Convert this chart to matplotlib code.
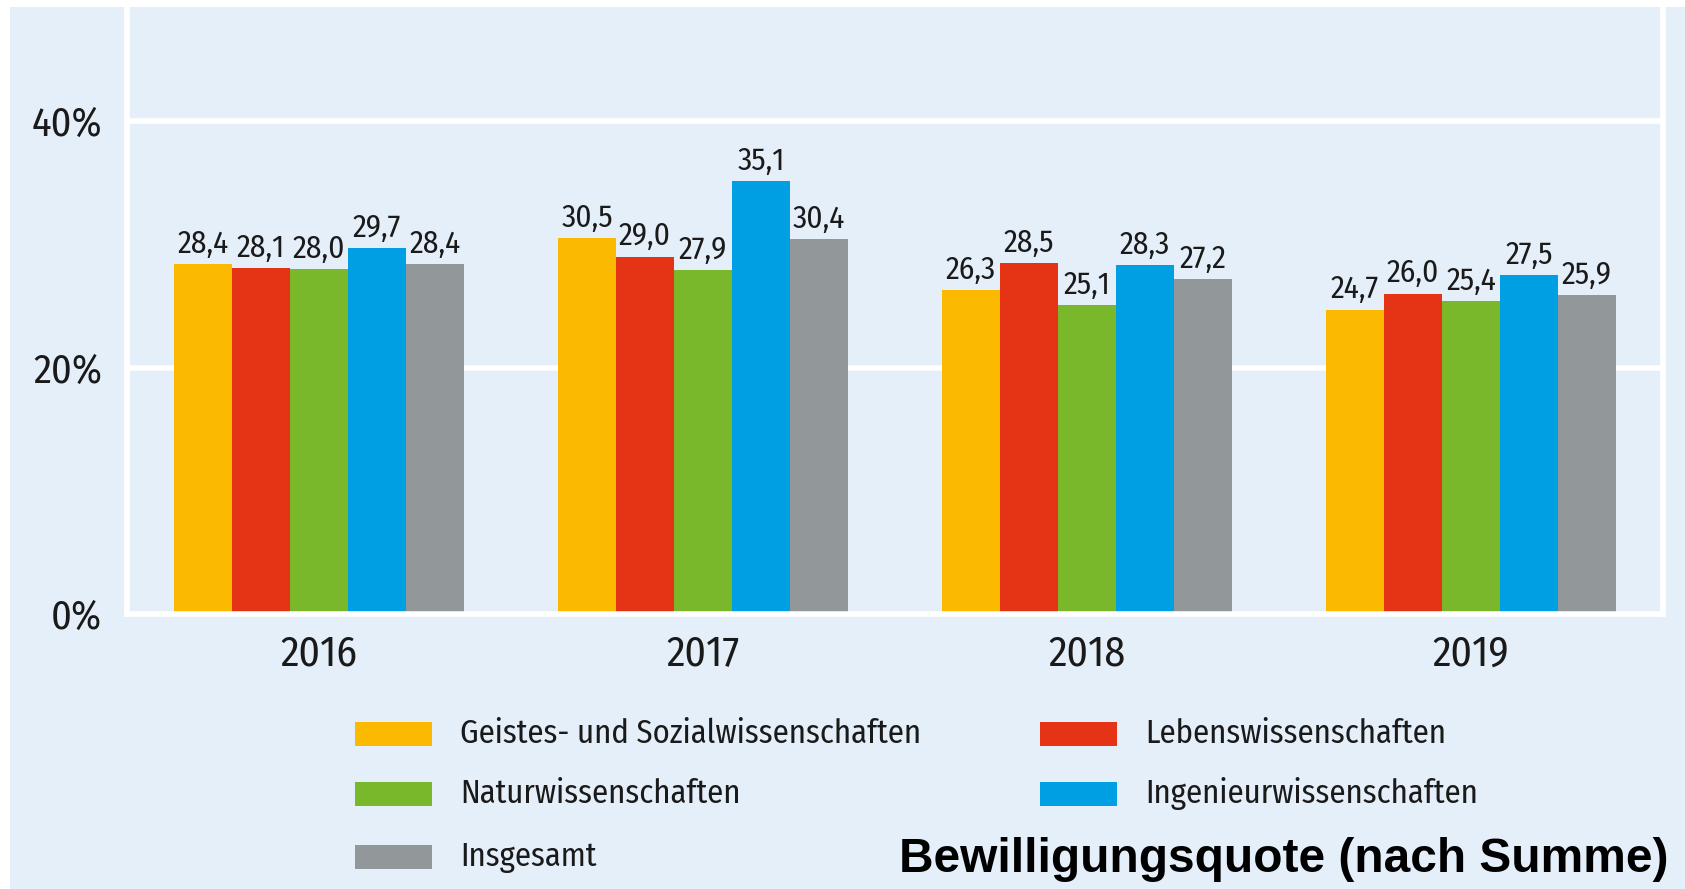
import matplotlib
matplotlib.use("Agg")
import matplotlib.pyplot as plt
from matplotlib.patches import Rectangle
import numpy as np

years = ["2016", "2017", "2018", "2019"]
series_names = ["Geistes- und Sozialwissenschaften", "Lebenswissenschaften",
                "Naturwissenschaften", "Ingenieurwissenschaften", "Insgesamt"]
geistes = [28.4, 30.5, 26.3, 24.7]
leben = [28.1, 29.0, 28.5, 26.0]
natur = [28.0, 27.9, 25.1, 25.4]
ingenieur = [29.7, 35.1, 28.3, 27.5]
insgesamt = [28.4, 30.4, 27.2, 25.9]
yticks = [0, 20, 40]
ytick_labels = ["0%", "20%", "40%"]
title = "Bewilligungsquote (nach Summe)"

colors = ["#fbb900", "#e43315", "#79b82b", "#009fe3", "#929899"]
bg = "#e5eff9"
narrow = ["Fira Sans Condensed", "PT Sans Narrow", "Roboto Condensed",
          "IBM Plex Sans Condensed", "DejaVu Sans"]
txtc = "#1a1a1a"

W, H = 1685, 889
fig = plt.figure(figsize=(W / 100, H / 100), dpi=100, facecolor="white")
fig.patches.append(Rectangle((10 / W, 0), 1 - 10 / W, 1 - 7 / H,
                             transform=fig.transFigure, facecolor=bg,
                             edgecolor="none", zorder=-10))

ax = fig.add_axes([127 / W, 1 - 614 / H, (1663 - 127) / W, (614 - 7) / H])
ax.set_facecolor(bg)
ax.set_xlim(-0.5, 3.5)
ax.set_ylim(0, (614 - 7) / 12.325)

data = [geistes, leben, natur, ingenieur, insgesamt]
x = np.arange(len(years))
bw = 0.151
for i, (vals, c) in enumerate(zip(data, colors)):
    xs = x + (i - 2) * bw
    ax.bar(xs, vals, width=bw, color=c, edgecolor="none", zorder=2)
    for xi, v in zip(xs, vals):
        ax.annotate(f"{v:.1f}".replace(".", ","), (xi, v), xytext=(0, 8),
                    textcoords="offset points", ha="center", va="baseline",
                    fontsize=22.5, family=narrow, color=txtc, zorder=4)

for yv in yticks[1:]:
    ax.axhline(yv, color="white", lw=4, zorder=1)

for s in ["left", "right", "bottom"]:
    ax.spines[s].set_color("white")
    ax.spines[s].set_linewidth(4)
    ax.spines[s].set_zorder(3)
ax.spines["top"].set_visible(False)

ax.set_yticks(yticks)
ax.set_yticklabels(ytick_labels, family=narrow, fontsize=29, color=txtc)
ax.set_xticks(x)
ax.set_xticklabels(years, family=narrow, fontsize=30, color=txtc)
ax.tick_params(axis="both", length=0)
ax.tick_params(axis="y", pad=18)
ax.tick_params(axis="x", pad=14)

# legend
leg_pos = [(355, 734), (1040, 734), (355, 794), (1040, 794), (355, 857)]
for (lx, ly), name, c in zip(leg_pos, series_names, colors):
    fig.patches.append(Rectangle((lx / W, 1 - (ly + 12) / H), 77 / W, 24 / H,
                                 transform=fig.transFigure, facecolor=c,
                                 edgecolor="none"))
    fig.text((lx + 105) / W, 1 - ly / H, name, family=narrow, fontsize=23.5,
             color=txtc, ha="left", va="center")

fig.text(1668 / W, 1 - 859 / H, title, family=["Liberation Sans", "DejaVu Sans"],
         fontweight="bold", fontsize=34.5, color="black", ha="right", va="center")

fig.savefig("out.png", dpi=100, facecolor="white")
